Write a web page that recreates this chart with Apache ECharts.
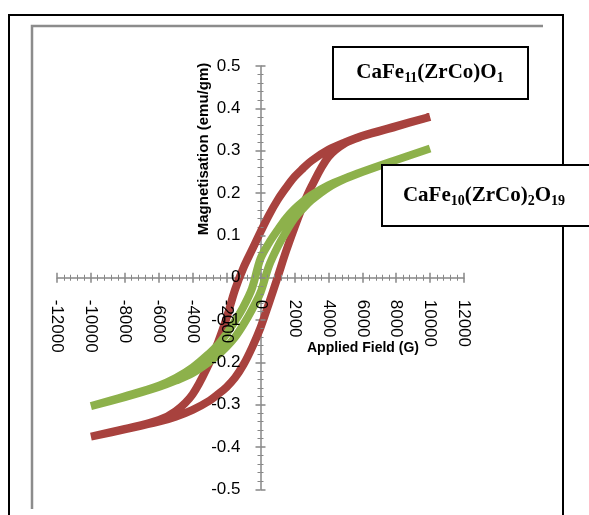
<!DOCTYPE html>
<html><head><meta charset="utf-8">
<script src="https://cdn.jsdelivr.net/npm/echarts@6/dist/echarts.min.js"></script>
<style>html,body{margin:0;padding:0;background:#fff}#c{width:589px;height:515px}</style>
</head><body><div id="c"></div>
<script>
// Applied field grid (G), descending branch order
const fieldDown = [10000, 8000, 6000, 5000, 4000, 3000, 2500, 2000, 1500, 1000, 500, 0, -500, -1000, -1500, -2000, -2500, -3000, -4000, -5000, -6000, -8000, -10000];
// CaFe11(ZrCo)O1 (red) : descending (upper) branch
const redDown = [0.380, 0.358, 0.335, 0.320, 0.302, 0.276, 0.258, 0.238, 0.212, 0.183, 0.148, 0.108, 0.066, 0.024, -0.028, -0.095, -0.152, -0.200, -0.275, -0.315, -0.336, -0.357, -0.375];
// ascending (lower) branch, listed from -10000 up to 10000
const fieldUp = fieldDown.slice().reverse();
const redUp = [-0.375, -0.358, -0.340, -0.328, -0.312, -0.290, -0.275, -0.258, -0.236, -0.205, -0.165, -0.118, -0.060, 0.000, 0.062, 0.118, 0.170, 0.215, 0.285, 0.318, 0.334, 0.357, 0.380];
// CaFe10(ZrCo)2O19 (green)
const greenDown = [0.305, 0.278, 0.250, 0.235, 0.218, 0.195, 0.180, 0.162, 0.140, 0.112, 0.082, 0.045, -0.025, -0.068, -0.102, -0.132, -0.158, -0.178, -0.212, -0.237, -0.255, -0.280, -0.303];
const greenUp = [-0.303, -0.282, -0.258, -0.243, -0.225, -0.198, -0.182, -0.163, -0.140, -0.110, -0.075, -0.035, 0.028, 0.072, 0.108, 0.140, 0.163, 0.183, 0.213, 0.234, 0.250, 0.278, 0.305];

const xTitle = 'Applied Field (G)';
const yTitle = 'Magnetisation (emu/gm)';

function loop(down, up) {
  return fieldDown.map((x, i) => [x, down[i]]).concat(fieldUp.map((x, i) => [x, up[i]]));
}

const axisColor = '#878787';
const labelFont = { fontFamily: 'Liberation Sans', fontSize: 17, color: '#000' };

const W = 589, H = 515;
const G = { left: 57, right: 125, top: 66, bottom: 25.5 };
const xMin = -12000, xMax = 12000, yMin = -0.5, yMax = 0.5;
// offsets that move the extra (tick/label) axes onto the zero lines
const gw = W - G.left - G.right, gh = H - G.top - G.bottom;
const xOff = -gh * (0 - yMin) / (yMax - yMin);
const yOff = -gw * (0 - xMin) / (xMax - xMin);

const chart = echarts.init(document.getElementById('c'), null, { renderer: 'canvas' });

const xBase = { type: 'value', min: xMin, max: xMax, interval: 2000, splitLine: { show: false } };
const yBase = { type: 'value', min: yMin, max: yMax, interval: 0.1, splitLine: { show: false } };

const richStyles = {
  m: { fontFamily: 'Liberation Serif', fontWeight: 'bold', fontSize: 21, lineHeight: 25, verticalAlign: 'middle', fill: '#000' },
  s: { fontFamily: 'Liberation Serif', fontWeight: 'bold', fontSize: 14, lineHeight: 14, verticalAlign: 'bottom', fill: '#000' }
};

chart.setOption({
  animation: false,
  backgroundColor: '#fff',
  grid: Object.assign({ containLabel: false, outerBoundsMode: 'none' }, G),
  xAxis: [
    Object.assign({}, xBase, {
      z: 0,
      axisLine: { show: true, onZero: true, onZeroAxisIndex: 0, lineStyle: { color: axisColor, width: 1.5 } },
      axisTick: { show: true, inside: false, length: 5, lineStyle: { color: axisColor, width: 1.5 } },
      minorTick: { show: true, splitNumber: 5, length: 3, lineStyle: { color: axisColor, width: 1 } },
      axisLabel: { show: false }
    }),
    Object.assign({}, xBase, {
      z: 10,
      position: 'bottom',
      offset: xOff,
      axisLine: { show: false, onZero: false },
      axisTick: { show: true, inside: true, length: 5, lineStyle: { color: axisColor, width: 1.5 } },
      minorTick: { show: true, splitNumber: 5, length: 3, lineStyle: { color: axisColor, width: 1 } },
      axisLabel: Object.assign({ show: true, inside: false, rotate: -90, margin: 22, formatter: v => String(v) }, labelFont)
    })
  ],
  yAxis: [
    Object.assign({}, yBase, {
      z: 0,
      axisLine: { show: true, onZero: true, onZeroAxisIndex: 0, lineStyle: { color: axisColor, width: 1.5 } },
      axisTick: { show: true, inside: false, length: 5, lineStyle: { color: axisColor, width: 1.5 } },
      minorTick: { show: true, splitNumber: 5, length: 3, lineStyle: { color: axisColor, width: 1 } },
      axisLabel: { show: false }
    }),
    Object.assign({}, yBase, {
      z: 10,
      position: 'left',
      offset: yOff,
      axisLine: { show: false, onZero: false },
      axisTick: { show: true, inside: true, length: 5, lineStyle: { color: axisColor, width: 1.5 } },
      minorTick: { show: true, splitNumber: 5, length: 3, lineStyle: { color: axisColor, width: 1 } },
      axisLabel: Object.assign({ show: true, inside: false, margin: 20, formatter: v => String(Math.round(v * 10) / 10) }, labelFont)
    })
  ],
  series: [
    { name: 'CaFe11(ZrCo)O1', type: 'line', data: loop(redDown, redUp), smooth: 0.35, symbol: 'none', z: 2,
      lineStyle: { color: '#A8423E', width: 8 } },
    { name: 'CaFe10(ZrCo)2O19', type: 'line', data: loop(greenDown, greenUp), smooth: 0.35, symbol: 'none', z: 3,
      lineStyle: { color: '#8DB14B', width: 8 } }
  ],
  graphic: [
    { type: 'rect', z: 0, silent: true, shape: { x: 9, y: 15, width: 554, height: 520 },
      style: { fill: 'none', stroke: '#000', lineWidth: 2 } },
    { type: 'polyline', z: 0, silent: true, shape: { points: [[32, 509], [32, 26], [543, 26]] },
      style: { fill: 'none', stroke: '#8c8c8c', lineWidth: 2.5 } },
    { type: 'text', z: 20, silent: true, x: 204, y: 149, rotation: Math.PI / 2,
      style: { text: yTitle, fontFamily: 'Liberation Sans', fontWeight: 'bold', fontSize: 15, fill: '#000', align: 'center', verticalAlign: 'middle' } },
    { type: 'text', z: 20, silent: true, x: 363, y: 348,
      style: { text: xTitle, fontFamily: 'Liberation Sans', fontWeight: 'bold', fontSize: 14, fill: '#000', align: 'center', verticalAlign: 'middle' } },
    { type: 'rect', z: 30, silent: true, shape: { x: 333, y: 47, width: 195, height: 52 },
      style: { fill: '#fff', stroke: '#000', lineWidth: 2 } },
    { type: 'text', z: 31, silent: true, x: 430, y: 73,
      style: { text: '{m|CaFe}{s|11}{m|(ZrCo)O}{s|1}', align: 'center', verticalAlign: 'middle', rich: richStyles } },
    { type: 'rect', z: 30, silent: true, shape: { x: 382, y: 165, width: 240, height: 61 },
      style: { fill: '#fff', stroke: '#000', lineWidth: 2 } },
    { type: 'text', z: 31, silent: true, x: 484, y: 196,
      style: { text: '{m|CaFe}{s|10}{m|(ZrCo)}{s|2}{m|O}{s|19}', align: 'center', verticalAlign: 'middle', rich: richStyles } }
  ]
});
</script>
</body></html>
